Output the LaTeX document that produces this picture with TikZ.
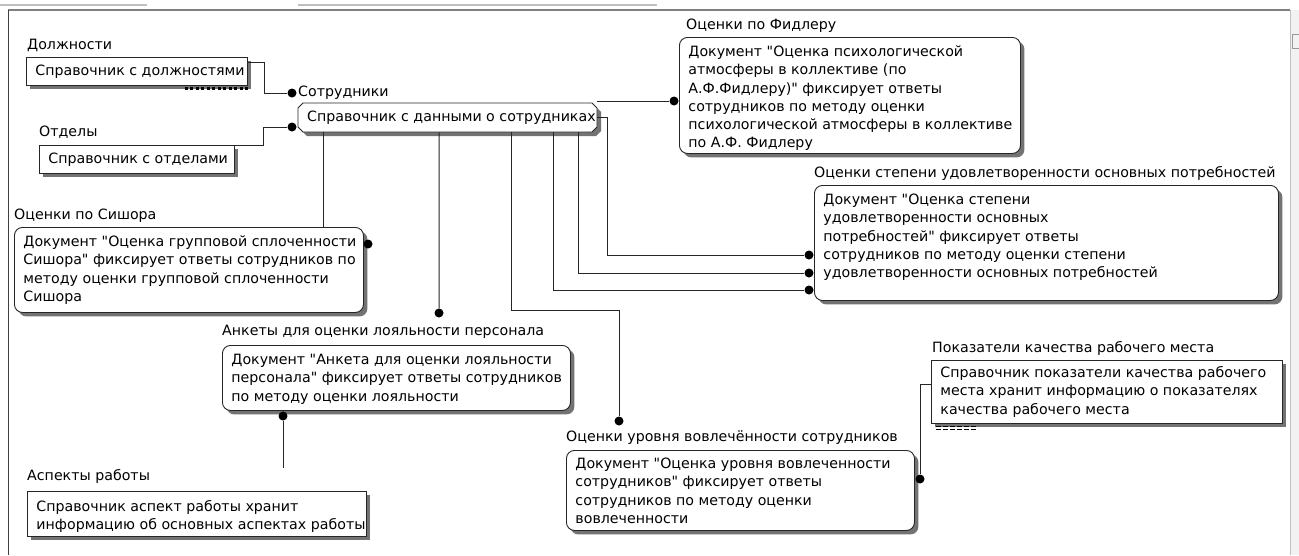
\documentclass[tikz,border=0pt]{standalone}
\usepackage{fontspec}
\newfontfamily\dvs{DejaVu Sans}
\usetikzlibrary{calc,shadows}
\newcommand\qq{"}
% #1 inner width, #2 height, #3 first baseline offset, #4 lines
\newcommand\bt[4]{\parbox[c][#2pt][t]{#1pt}{\vspace*{\dimexpr #3pt-0.7\baselineskip\relax}\begin{tabular}[t]{@{}l@{}}#4\end{tabular}}}
\tikzset{
  txt/.style={font=\dvs\fontsize{14.2}{18.3}\selectfont},
  lbl/.style={txt, anchor=base west, inner sep=0pt},
  shad/.style={drop shadow={shadow xshift=4pt, shadow yshift=-4pt, opacity=1, fill=black!55}},
  refbox/.style={txt, draw=black!85, line width=0.9pt, fill=white, anchor=north west, inner xsep=9pt, inner ysep=0pt, shad},
  docbox/.style={refbox, rounded corners=8pt},
  dot/.style={circle, fill=black, inner sep=0pt, minimum size=9pt},
  link/.style={draw=black!85, line width=1pt},
}
\begin{document}
\begin{tikzpicture}[x=1pt, y=-1pt]
\useasboundingbox (0,0) rectangle (1299,555);
\fill[white] (0,0) rectangle (1299,555);
% window frame
\draw[black!25, line width=2pt] (0,5) -- (147,5);
\draw[black!25, line width=2pt] (298,5) -- (657,5);
\fill[black!5] (1290,10) rectangle (1299,555);
\draw[black!25] (1290,10) -- (1290,555);
\draw[black!40] (1292,34) rectangle (1299,48);
\draw[black!50, line width=1.2pt] (8,10) -- (1290,10);
\draw[black!75, line width=1.5pt] (8.5,10) -- (8.5,555);

% labels
\node[lbl] (l_dolzh) at (27,49) {Должности};
\node[lbl] (l_sotr) at (298,96) {Сотрудники};
\node[lbl] (l_otd) at (39,136) {Отделы};
\node[lbl] (l_fid) at (686,29) {Оценки по Фидлеру};
\node[lbl] (l_udovl) at (814,177) {Оценки степени удовлетворенности основных потребностей};
\node[lbl] (l_sish) at (14,219) {Оценки по Сишора};
\node[lbl] (l_ank) at (222,335) {Анкеты для оценки лояльности персонала};
\node[lbl] (l_pok) at (932,352) {Показатели качества рабочего места};
\node[lbl] (l_vov) at (566,441) {Оценки уровня вовлечённости сотрудников};
\node[lbl] (l_asp) at (27,480) {Аспекты работы};

% boxes
\node[refbox] (dolzh) at (26,57) {\bt{203}{28}{18}{Справочник с должностями}};
\draw[line width=3.5pt, dash pattern=on 3pt off 2.5pt] ($(dolzh.south east)+(-63,2.5)$) -- ($(dolzh.south east)+(0,2.5)$);
\node[refbox] (otd) at (39,145) {\bt{177}{28}{18}{Справочник с отделами}};

\filldraw[draw=black!85, line width=0.9pt, fill=white, shad]
  (303,103) -- (592,103) -- (597,108) -- (597,127) -- (592,132) -- (303,132) -- (298,127) -- (298,108) -- cycle;
\node[txt, anchor=north west, inner xsep=9pt, inner ysep=0pt] (sotr) at (298,103) {\bt{281}{29}{18}{Справочник с данными о сотрудниках}};

\node[docbox] (fid) at (679,37) {\bt{323}{116}{19}{Документ "Оценка психологической\\атмосферы в коллективе (по\\А.Ф.Фидлеру)" фиксирует ответы\\сотрудников по методу оценки\\психологической атмосферы в коллективе\\по А.Ф. Фидлеру}};
\node[docbox] (udovl) at (814,185) {\bt{446}{115}{19}{Документ "Оценка степени\\удовлетворенности основных\\потребностей" фиксирует ответы\\сотрудников по методу оценки степени\\удовлетворенности основных потребностей}};
\node[docbox] (sish) at (14,227) {\bt{331}{85}{19}{Документ "Оценка групповой сплоченности\\Сишора" фиксирует ответы сотрудников по\\методу оценки групповой сплоченности\\Сишора}};
\node[docbox] (ank) at (222,345) {\bt{330}{65}{19}{Документ "Анкета для оценки лояльности\\персонала" фиксирует ответы сотрудников\\по методу оценки лояльности}};
\node[refbox] (pok) at (931,360) {\bt{333}{63}{17}{Справочник показатели качества рабочего\\места хранит информацию о показателях\\качества рабочего места}};
\draw[line width=0.8pt, dash pattern=on 5pt off 2pt] ($(pok.south west)+(5,2.5)$) -- ++(42,0);
\draw[line width=0.8pt, dash pattern=on 5pt off 2pt] ($(pok.south west)+(5,5)$) -- ++(42,0);
\node[docbox] (vov) at (566,450) {\bt{330}{80}{18}{Документ "Оценка уровня вовлеченности\\сотрудников" фиксирует ответы\\сотрудников по методу оценки\\вовлеченности}};
\node[refbox] (asp) at (27,491) {\bt{321}{45}{20}{Справочник аспект работы хранит\\информацию об основных аспектах работы}};

% dots
\node[dot] (d_s1) at (292,93) {};
\node[dot] (d_s2) at (292,127) {};
\node[dot] (d_fid) at (674,101) {};
\node[dot] (d_u1) at (809,255) {};
\node[dot] (d_u2) at (809,273) {};
\node[dot] (d_u3) at (809,290) {};
\node[dot] (d_sish) at (368,244) {};
\node[dot] (d_ank) at (439,313) {};
\node[dot] (d_vov) at (619,421) {};
\node[dot] (d_ank2) at (283,416) {};
\node[dot] (d_vov2) at (920,479) {};
\coordinate (ank_end) at (283,468);

% connectors
\draw[link] ($(dolzh.north east)+(0,5)$) -- ++(17,0) |- (d_s1);
\draw[link] (otd.north east) -- ++(29,0) |- (d_s2);
\draw[link] ($(sotr.south)+(-124.5,0)$) coordinate (c1) -- (c1 |- sish.north);
\draw[link] ($(sotr.south)+(-8.5,0)$) -- (d_ank);
\draw[link] ($(sotr.south)+(63.5,0)$) -- ++(0,178) -| (d_vov);
\draw[link] ($(sotr.south)+(105.5,0)$) |- (d_u3);
\draw[link] ($(sotr.south)+(130.5,0)$) |- (d_u2);
\draw[link] (sotr.east) -- ++(10,0) |- (d_u1);
\draw[link] ($(sotr.north east)+(0,-2)$) -- (d_fid);
\draw[link] (d_ank2) -- (ank_end);
\draw[link] (d_vov2) |- ($(pok.north west)+(0,24)$);
\end{tikzpicture}
\end{document}
